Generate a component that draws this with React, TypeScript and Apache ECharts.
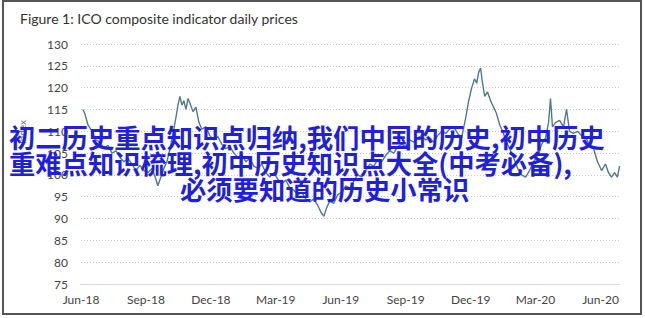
import React, { useEffect, useRef } from "react";
import * as echarts from "echarts";

const titleText = "Figure 1: ICO composite indicator daily prices";
const yAxisName = "Index";
const xTickLabels = ["Jun-18", "Sep-18", "Dec-18", "Mar-19", "Jun-19", "Sep-19", "Dec-19", "Mar-20", "Jun-20"];

// months elapsed since June 2018
const monthOffsets = [
  0.09, 0.18, 0.32, 0.51, 0.69, 0.88, 1.06, 1.25, 1.43, 1.62, 1.8, 1.98, 2.17, 2.35, 2.54, 2.72, 2.91, 3.09, 3.28, 3.46,
  3.55, 3.69, 3.83, 3.97, 4.11, 4.25, 4.38, 4.48, 4.57, 4.66, 4.75, 4.85, 4.94, 5.03, 5.17, 5.31, 5.45, 5.58, 5.77, 5.95,
  6.14, 6.32, 6.51, 6.69, 6.88, 7.06, 7.25, 7.43, 7.62, 7.8, 7.98, 8.17, 8.35, 8.54, 8.72, 8.91, 9.09, 9.28, 9.46, 9.65,
  9.83, 10.02, 10.2, 10.38, 10.57, 10.75, 10.94, 11.08, 11.22, 11.35, 11.49, 11.68, 11.86, 12.05, 12.23, 12.42, 12.6, 12.78, 12.97, 13.15,
  13.34, 13.52, 13.71, 13.89, 14.08, 14.26, 14.45, 14.63, 14.82, 15.0, 15.18, 15.37, 15.55, 15.74, 15.92, 16.11, 16.29, 16.48, 16.66, 16.85,
  17.03, 17.22, 17.4, 17.58, 17.77, 17.91, 18.05, 18.18, 18.28, 18.37, 18.46, 18.55, 18.65, 18.78, 18.92, 19.06, 19.2, 19.34, 19.48, 19.62,
  19.8, 19.98, 20.17, 20.35, 20.54, 20.72, 20.91, 21.09, 21.28, 21.46, 21.6, 21.69, 21.78, 21.92, 22.11, 22.29, 22.43, 22.57, 22.75, 22.94,
  23.12, 23.31, 23.49, 23.68, 23.86, 24.05, 24.23, 24.37, 24.51, 24.65, 24.78, 24.88,
];

const prices = [
  115, 114, 111.5, 110, 108, 107.5, 106, 106.8, 105, 105.5, 104, 103, 103.8, 102.5, 101, 102.2, 101, 100.5, 101.5, 99,
  97.5, 99.5, 101.5, 103, 106, 109.5, 113, 116, 118, 116, 117, 115, 117.5, 116.5, 114.5, 115.5, 112, 110.5, 111, 109,
  108, 108.8, 107, 106, 106.5, 105, 104, 104.6, 103, 103.8, 102, 101.5, 102.5, 100.5, 99.5, 100.5, 99, 98, 98.8, 97,
  96.5, 95.5, 96, 94.5, 93.8, 94.5, 93, 91.5, 90.5, 92.5, 94, 93.5, 95.5, 96, 97.5, 97, 98.5, 100, 99.5, 101,
  102.5, 102, 103.5, 103, 104.5, 105.5, 105, 106.5, 107, 106.5, 108, 107.5, 108.5, 109, 108, 108.5, 107.5, 109, 110, 109.5,
  110.5, 111, 109.5, 108.5, 113, 117, 120, 122, 121, 123.5, 124.5, 121, 118, 119, 117, 115.5, 114, 111.5, 110, 108,
  106, 104, 101.5, 100, 99.5, 101, 103, 104.5, 107, 108.5, 112, 117.5, 111, 112, 112.5, 111, 115, 110, 109.5, 110,
  109, 108.5, 107, 106, 103, 101, 102.5, 100.5, 99.5, 100.5, 99.5, 102,
];

const overlayLines = [
  "初二历史重点知识点归纳,我们中国的历史,初中历史",
  "重难点知识梳理,初中历史知识点大全(中考必备),",
  "必须要知道的历史小常识",
];

export default function App() {
  const ref = useRef<HTMLDivElement>(null);
  useEffect(() => {
    if (!ref.current) return;
    const chart = echarts.init(ref.current, null, { renderer: "svg" });
    const seriesData = monthOffsets.map((m, i) => [m, prices[i]]);
    const labelFont = "Lato, 'Open Sans', sans-serif";
    const cjkFont = "'Noto Sans CJK SC', sans-serif";
    const overlayStyle = {
      fill: "#1f1fdc",
      fontSize: 26.3,
      fontWeight: "bold",
      fontFamily: cjkFont,
      verticalAlign: "middle",
    };
    chart.setOption({
      animation: false,
      backgroundColor: "#ffffff",
      title: {
        text: titleText,
        left: 15,
        top: 6,
        textStyle: { fontSize: 14, fontWeight: "normal", color: "#333", fontFamily: labelFont },
      },
      grid: { left: 81, right: 25, top: 44, bottom: 34, containLabel: false },
      xAxis: {
        type: "value",
        min: 0,
        max: 24.9,
        interval: 3,
        axisLine: { show: true, lineStyle: { color: "#d9d9d9", width: 1 } },
        axisTick: { show: false },
        splitLine: { show: false },
        axisLabel: {
          color: "#444",
          fontSize: 12,
          fontFamily: labelFont,
          margin: 9,
          showMaxLabel: false,
          formatter: (v: number) => {
            const idx = Math.round(v / 3);
            return Math.abs(v - idx * 3) < 1e-6 && xTickLabels[idx] ? xTickLabels[idx] : "";
          },
        },
      },
      yAxis: {
        type: "value",
        min: 75,
        max: 130,
        interval: 5,
        axisLine: { show: false },
        axisTick: { show: false },
        splitLine: { show: true, lineStyle: { color: "#c9c9c9", type: [1, 2], width: 1 } },
        axisLabel: { color: "#444", fontSize: 12, fontFamily: labelFont, margin: 13 },
      },
      series: [
        {
          type: "line",
          data: seriesData,
          showSymbol: false,
          symbol: "none",
          lineStyle: { color: "#527a8c", width: 1.4 },
          z: 3,
        },
      ],
      graphic: [
        {
          type: "rect",
          shape: { x: 3, y: 1, width: 638, height: 313 },
          style: { fill: "none", stroke: "#555", lineWidth: 2 },
          z: 100,
          silent: true,
        },
        {
          type: "text",
          x: 22,
          y: 132,
          rotation: Math.PI / 2,
          style: {
            text: yAxisName,
            fill: "#666",
            fontSize: 10,
            fontFamily: labelFont,
            align: "center",
            verticalAlign: "middle",
          },
          z: 50,
        },
        { type: "text", x: 9, y: 136, style: { ...overlayStyle, text: overlayLines[0] }, z: 200 },
        { type: "text", x: 9, y: 162, style: { ...overlayStyle, text: overlayLines[1] }, z: 200 },
        { type: "text", x: 180, y: 188, style: { ...overlayStyle, text: overlayLines[2] }, z: 200 },
      ],
    });
    return () => chart.dispose();
  }, []);
  return (
    <div
      ref={ref}
      style={{ position: "fixed", left: 0, top: 0, width: 645, height: 318, background: "#fff" }}
    />
  );
}
